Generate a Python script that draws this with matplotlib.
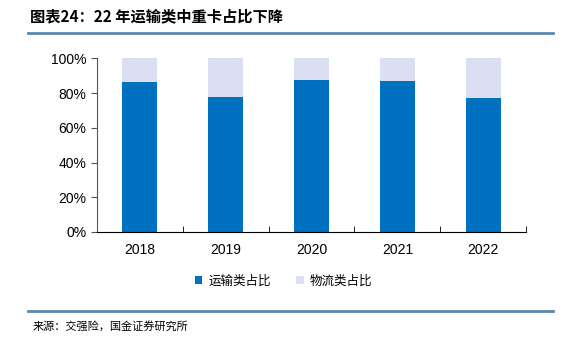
import matplotlib
matplotlib.use("Agg")
import matplotlib.pyplot as plt
from matplotlib.lines import Line2D
import numpy as np

plt.rcParams['font.family'] = ['Liberation Sans', 'Noto Sans CJK SC', 'DejaVu Sans']

years = ['2018', '2019', '2020', '2021', '2022']
transport = [86.2, 77.7, 87.5, 86.9, 77.1]
logistics = [100 - v for v in transport]
series_names = ['运输类占比', '物流类占比']
title = '图表24：22 年运输类中重卡占比下降'
source = '来源：交强险，国金证券研究所'

c1 = '#0070C0'
c2 = '#DAE0F2'

fig = plt.figure(figsize=(5.67, 3.44), dpi=100)
ax = fig.add_axes([0.171, 0.326, 0.757, 0.504])
x = np.arange(len(years))
ax.bar(x, transport, width=0.41, color=c1, label=series_names[0])
ax.bar(x, logistics, width=0.41, bottom=transport, color=c2, label=series_names[1])
ax.set_xlim(-0.5, len(years) - 0.5)
ax.set_ylim(0, 100)
ax.set_yticks(np.arange(0, 101, 20))
ax.set_yticklabels([f'{v}%' for v in range(0, 101, 20)], fontsize=10)
ax.set_xticks(x)
ax.set_xticklabels(years, fontsize=10)
ax.set_xticks(np.arange(0.5, len(years) - 0.5 + 0.01, 1), minor=True)
ax.tick_params(axis='x', which='major', length=0, pad=8)
ax.tick_params(axis='x', which='minor', direction='in', length=4, color='black')
ax.tick_params(axis='y', direction='out', length=4, color='#555555')
for s in ['top', 'right']:
    ax.spines[s].set_visible(False)
ax.spines['left'].set_color('#555555')
ax.spines['bottom'].set_color('black')

leg = fig.legend(loc='center', bbox_to_anchor=(0.5, 0.183), ncol=2, frameon=False,
                 handlelength=0.6, handleheight=0.6, columnspacing=2.0, handletextpad=0.5,
                 prop={'family': ['Noto Sans CJK SC'], 'size': 9})

fig.text(0.053, 0.952, title, fontsize=11, fontweight='bold', fontstyle='italic',
         family=['Noto Sans CJK SC', 'DejaVu Sans'], va='center', ha='left')
fig.add_artist(Line2D([0.05, 0.975], [0.903, 0.903], color='#5B88AE', lw=2, transform=fig.transFigure))
fig.add_artist(Line2D([0.05, 0.975], [0.096, 0.096], color='#5B88AE', lw=2, transform=fig.transFigure))
fig.text(0.058, 0.052, source, fontsize=8, family=['Noto Sans CJK SC'], va='center', ha='left')

fig.savefig('out.png', dpi=100)
